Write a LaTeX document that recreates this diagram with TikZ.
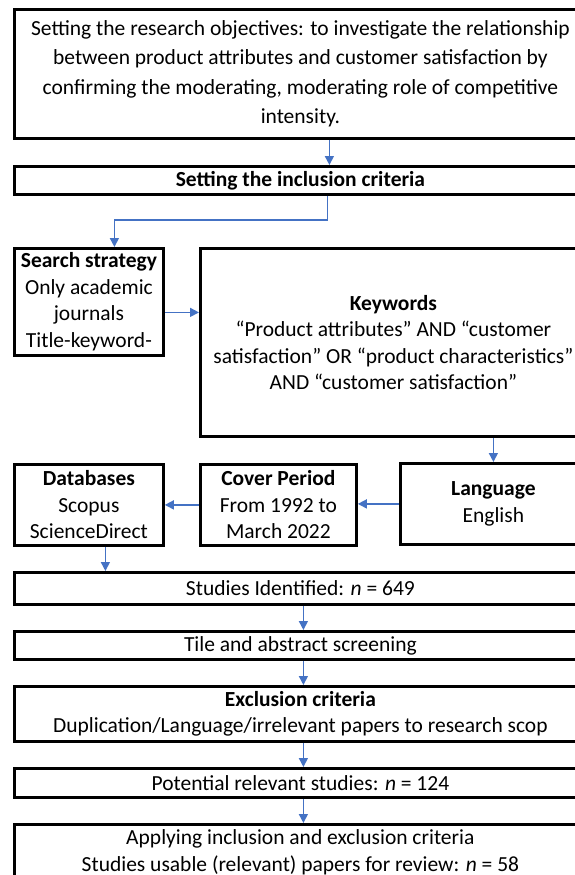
\documentclass[tikz,border=0pt]{standalone}
\usepackage{fontspec}
\setmainfont{Carlito}
\usetikzlibrary{arrows.meta}
\definecolor{linkblue}{HTML}{4472C4}
\tikzset{
  x=1pt, y=-1pt, % one unit per pixel, y runs downwards
  box/.style={draw, line width=2.8pt, anchor=north west, align=center,
    inner sep=0pt, font=\fontsize{21.5}{26.5}\selectfont}, % every step of the flow
  link/.style={draw=linkblue, line width=1.5pt,
    -{Triangle[width=9pt,length=9pt]}}, % blue connectors
}
\begin{document}
\begin{tikzpicture}
  \clip (0,0) rectangle (575,875);

  \node[box, minimum width=572, minimum height=129,
    font=\fontsize{21.5}{29.5}\selectfont] (obj) at (13,8)
    {Setting the research objectives: to investigate the relationship\\
    between product attributes and customer satisfaction by\\
    confirming the moderating, moderating role of competitive\\
    intensity.};
  \node[box, minimum width=572, minimum height=28] (incl) at (13,165)
    {\textbf{Setting the inclusion criteria}};

  \node[box, minimum width=149, minimum height=107] (search) at (13,247)
    {\textbf{Search strategy}\\Only academic\\journals\\Title-keyword-};
  \node[box, minimum width=386, minimum height=188] (keyw) at (199,247)
    {\textbf{Keywords}\\“Product attributes” AND “customer\\
    satisfaction” OR “product characteristics”\\AND “customer satisfaction”};

  \node[box, minimum width=149, minimum height=81] (db) at (13,463)
    {\textbf{Databases}\\Scopus\\ScienceDirect};
  \node[box, minimum width=156, minimum height=81] (cover) at (199,463)
    {\textbf{Cover Period}\\From 1992 to\\March 2022};
  \node[box, minimum width=186, minimum height=81] (lang) at (399,462)
    {\textbf{Language}\\English};

  \node[box, minimum width=572, minimum height=32] (studies) at (13,571)
    {Studies Identified: \textit{n} = 649};
  \node[box, minimum width=572, minimum height=28] (tile) at (13,630)
    {Tile and abstract screening};
  \node[box, minimum width=572, minimum height=55] (excl) at (13,685)
    {\textbf{Exclusion criteria}\\
    Duplication/Language/irrelevant papers to research scop};
  \node[box, minimum width=572, minimum height=29] (pot) at (13,767)
    {Potential relevant studies: \textit{n} = 124};
  \node[box, minimum width=572, minimum height=56] (final) at (13,823)
    {Applying inclusion and exclusion criteria\\
    Studies usable (relevant) papers for review: \textit{n} = 58};

  % connectors
  \coordinate (o1) at ([xshift=29pt]obj.south);
  \draw[link] (o1) -- (o1 |- incl.north);
  \coordinate (i1) at ([xshift=27pt]incl.south);
  \coordinate (s1) at ([xshift=25.5pt]search.north);
  \draw[link] (i1) -- ++(0,24) -| (s1);
  \coordinate (s2) at ([yshift=-10.5pt]search.east);
  \draw[link] (s2) -- (s2 -| keyw.west);
  \draw[link] (lang.north |- keyw.south) -- (lang.north);
  \draw[link] (lang.west) -- (lang.west -| cover.east);
  \draw[link] (cover.west) -- (cover.west -| db.east);
  \coordinate (d1) at ([xshift=16.5pt]db.south);
  \draw[link] (d1) -- (d1 |- studies.north);
  \foreach \a/\b in {studies/tile, tile/excl, excl/pot, pot/final}
    \draw[link] ([xshift=3pt]\a.south) -- ([xshift=3pt]\b.north);
\end{tikzpicture}
\end{document}
